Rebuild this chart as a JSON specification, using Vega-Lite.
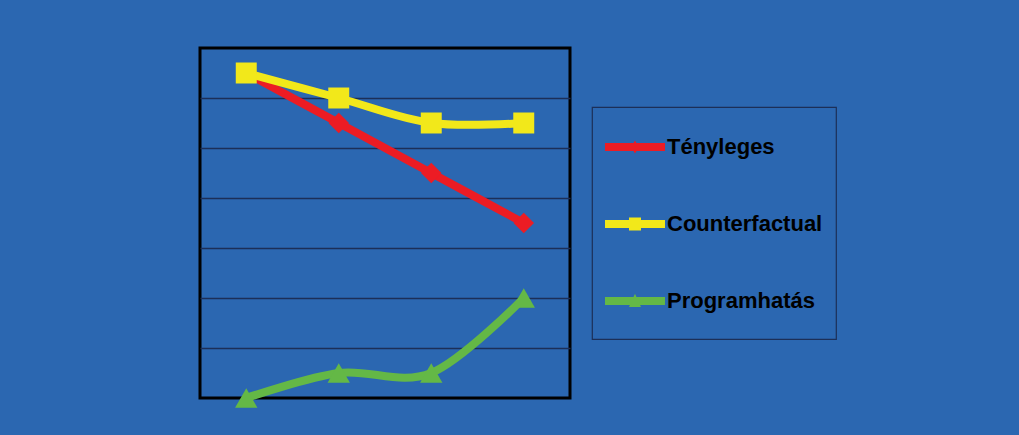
{
  "$schema": "https://vega.github.io/schema/vega-lite/v6.json",
  "autosize": "none",
  "width": 370,
  "height": 350,
  "padding": {"left": 200, "top": 48, "right": 449, "bottom": 37},
  "background": "#2B67B1",
  "config": {
    "view": {"fill": "#2B67B1", "stroke": "#000000", "strokeWidth": 3},
    "font": "Liberation Sans"
  },
  "data": {
    "values": [
      {"period": "1", "series": "Tényleges", "value": 6.5},
      {"period": "2", "series": "Tényleges", "value": 5.5},
      {"period": "3", "series": "Tényleges", "value": 4.5},
      {"period": "4", "series": "Tényleges", "value": 3.5},
      {"period": "1", "series": "Counterfactual", "value": 6.5},
      {"period": "2", "series": "Counterfactual", "value": 6.0},
      {"period": "3", "series": "Counterfactual", "value": 5.5},
      {"period": "4", "series": "Counterfactual", "value": 5.5},
      {"period": "1", "series": "Programhatás", "value": 0.0},
      {"period": "2", "series": "Programhatás", "value": 0.5},
      {"period": "3", "series": "Programhatás", "value": 0.5},
      {"period": "4", "series": "Programhatás", "value": 2.0}
    ]
  },
  "encoding": {
    "x": {
      "field": "period",
      "type": "ordinal",
      "scale": {"type": "point", "padding": 0.5},
      "axis": null
    },
    "y": {
      "field": "value",
      "type": "quantitative",
      "scale": {"domain": [0, 7], "nice": false, "zero": false},
      "axis": {
        "values": [1, 2, 3, 4, 5, 6],
        "labels": false,
        "ticks": false,
        "domain": false,
        "title": null,
        "grid": true,
        "gridColor": "#1C2F58",
        "gridWidth": 1.5,
        "gridOpacity": 1
      }
    },
    "color": {
      "field": "series",
      "type": "nominal",
      "scale": {
        "domain": ["Tényleges", "Counterfactual", "Programhatás"],
        "range": ["#EC1C24", "#F2E81A", "#64B846"]
      },
      "legend": {
        "title": null,
        "orient": "none",
        "legendX": 392,
        "legendY": 59,
        "padding": 13,
        "rowPadding": 25,
        "fillColor": "#2B67B1",
        "strokeColor": "#1C2F58",
        "symbolSize": 2916,
        "symbolStrokeWidth": 0,
        "labelFont": "Liberation Sans",
        "labelFontWeight": "bold",
        "labelFontSize": 22,
        "labelColor": "#000000",
        "labelOffset": 8,
        "labelLimit": 400,
        "encode": {
          "legend": {"update": {"strokeWidth": {"value": 1.2}}},
          "symbols": {
            "update": {
              "shape": {"signal": "datum.value === 'Tényleges' ? 'M-1,-0.144L1.222,-0.144L1.222,0.144L-1,0.144Z M0.111,-0.244L0.255,0L0.111,0.244L-0.033,0Z M0,0.889L0.001,0.889L0,0.889Z' : datum.value === 'Counterfactual' ? 'M-1,-0.144L1.222,-0.144L1.222,0.144L-1,0.144Z M-0.111,-0.244L0.333,-0.244L0.333,0.244L-0.111,0.244Z M0,0.889L0.001,0.889L0,0.889Z' : 'M-1,-0.144L1.222,-0.144L1.222,0.144L-1,0.144Z M0.111,-0.267L0.333,0.222L-0.111,0.222Z M0,0.889L0.001,0.889L0,0.889Z'"},
              "size": {"value": 2916},
              "fill": {"signal": "scale('color', datum.value)"},
              "stroke": {"value": "transparent"},
              "opacity": {"value": 1}
            }
          }
        }
      }
    }
  },
  "layer": [
    {
      "mark": {
        "type": "line",
        "interpolate": "cardinal",
        "strokeWidth": 8,
        "strokeCap": "round",
        "strokeJoin": "round"
      }
    },
    {
      "transform": [{"filter": "datum.series === 'Tényleges'"}],
      "mark": {"type": "point", "filled": true, "opacity": 1, "shape": "diamond", "size": 420}
    },
    {
      "transform": [{"filter": "datum.series === 'Counterfactual'"}],
      "mark": {"type": "point", "filled": true, "opacity": 1, "shape": "square", "size": 440}
    },
    {
      "transform": [{"filter": "datum.series === 'Programhatás'"}],
      "mark": {"type": "point", "filled": true, "opacity": 1, "shape": "triangle-up", "size": 500}
    }
  ]
}
